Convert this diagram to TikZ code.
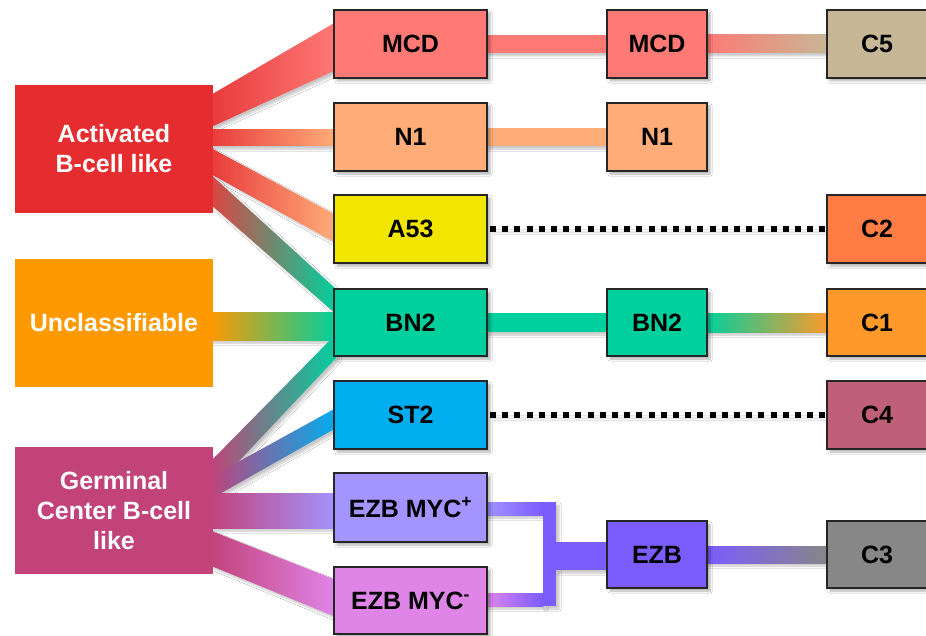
\documentclass[tikz,border=0pt]{standalone}
\usepackage{fontspec}
\setmainfont{Liberation Sans}
\usetikzlibrary{calc,shadows.blur}
\definecolor{actc}{HTML}{E52C2E}
\definecolor{actb}{HTML}{E8393B}
\definecolor{unclc}{HTML}{FF9900}
\definecolor{germc}{HTML}{C2427A}
\definecolor{mcdc}{HTML}{FF7A75}
\definecolor{n1c}{HTML}{FFAD78}
\definecolor{a53c}{HTML}{F2E600}
\definecolor{bn2c}{HTML}{00D09E}
\definecolor{st2c}{HTML}{00AEEF}
\definecolor{mycpc}{HTML}{A394FF}
\definecolor{mycmc}{HTML}{E085E8}
\definecolor{ezbc}{HTML}{7B5CFF}
\definecolor{c5c}{HTML}{C6B896}
\definecolor{c2c}{HTML}{FF7D45}
\definecolor{c1c}{HTML}{FF9A2A}
\definecolor{c4c}{HTML}{BF6078}
\definecolor{c3c}{HTML}{878787}
\definecolor{mudc}{HTML}{8C9A78}
\pgfdeclarelayer{bg}
\pgfsetlayers{bg,main}
\begin{document}
\begin{tikzpicture}[x=1pt,y=-1pt,
  shad/.style={blur shadow={shadow xshift=3pt, shadow yshift=-3pt, shadow blur steps=6, shadow opacity=30}},
  box/.style={shad, draw=black!85, line width=1.3pt, inner sep=0pt, outer sep=0pt,
    font=\bfseries\fontsize{25}{30}\selectfont, text=black},
  big/.style={inner sep=0pt, outer sep=0pt, minimum width=198pt, minimum height=128pt,
    text=white, align=center, font=\bfseries\fontsize{25}{30}\selectfont},
  midbox/.style={box, minimum width=153pt, minimum height=68pt},
  thrbox/.style={box, minimum width=100pt, minimum height=68pt},
  band/.style={blur shadow={shadow xshift=3pt, shadow yshift=-3pt, shadow blur steps=5, shadow opacity=22}},
  dots/.style={line width=6pt, dash pattern=on 6pt off 6.2pt, black}
]
\useasboundingbox (0,0) rectangle (926,636);

% left boxes
\node[big, fill=actc] (act) at (114,149) {Activated\\B-cell like};
\node[big, fill=unclc] (uncl) at (114,323) {Unclassifiable};
\node[big, fill=germc, minimum height=127pt] (germ) at (114,510.5) {Germinal\\Center B-cell\\like};

% middle column
\node[midbox, fill=mcdc] (m1) at (410.5,44) {MCD};
\node[midbox, fill=n1c] (n1) at (410.5,137) {N1};
\node[midbox, fill=a53c] (a53) at (410.5,229) {A53};
\node[midbox, fill=bn2c, minimum height=67pt] (bn2) at (410.5,322.5) {BN2};
\node[midbox, fill=st2c] (st2) at (410.5,415) {ST2};
\node[midbox, fill=mycpc, minimum height=69pt] (mycp) at (410.5,507.5) {EZB MYC\textsuperscript{+}};
\node[midbox, fill=mycmc, minimum height=67pt] (mycm) at (410.5,600.5) {EZB MYC\textsuperscript{-}};

% third column
\node[thrbox, fill=mcdc] (m2) at (657,44) {MCD};
\node[thrbox, fill=n1c] (n2) at (657,137) {N1};
\node[thrbox, fill=bn2c, minimum height=67pt] (bn3) at (657,322.5) {BN2};
\node[thrbox, fill=ezbc, minimum height=67pt] (ezb) at (657,554.5) {EZB};

% right column
\node[thrbox, fill=c5c] (c5) at (877,44) {C5};
\node[thrbox, fill=c2c] (c2) at (877,229) {C2};
\node[thrbox, fill=c1c, minimum height=67pt] (c1) at (877,322.5) {C1};
\node[thrbox, fill=c4c] (c4) at (877,415) {C4};
\node[thrbox, fill=c3c, minimum height=67pt] (c3) at (877,554.5) {C3};

\coordinate (jt) at (556,502);
\coordinate (jb) at (556,606);

\begin{pgfonlayer}{bg}
\fill[white] (0,0) rectangle (926,636);
% Activated B-cell like
\shade[band, left color=actb, right color=mcdc]
  ($(act.north east)+(-4,11)$) -- ($(m1.north west)+(2,12)$) -- ($(m1.south west)+(2,-8)$) -- ($(act.north east)+(-4,43)$) -- cycle;
\shade[band, left color=actb, right color=n1c]
  ($(act.north east)+(-4,45)$) rectangle ($(n1.west)+(2,9)$);
\shade[band, left color=actb, right color=n1c]
  ($(act.north east)+(-4,62)$) -- ($(a53.north west)+(2,20)$) -- ($(a53.north west)+(2,48)$) -- ($(act.north east)+(-4,88)$) -- cycle;
\shade[band, left color=actb!90!mudc, middle color=mudc, right color=bn2c]
  ($(act.north east)+(-4,88)$) -- ($(bn2.north west)+(2,0)$) -- ($(bn2.north west)+(2,25)$) -- ($(act.north east)+(-4,118)$) -- cycle;
% Unclassifiable
\shade[band, left color=unclc, middle color=mudc!60!unclc, right color=bn2c]
  ($(uncl.north east)+(-4,53)$) rectangle ($(bn2.south west)+(2,-16)$);
% Germinal center
\shade[band, left color=germc, middle color=mudc, right color=bn2c]
  ($(germ.north east)+(-4,16)$) -- ($(bn2.south west)+(2,-22)$) -- ($(bn2.south west)+(2,2)$) -- ($(germ.north east)+(-4,46)$) -- cycle;
\shade[band, left color=germc, right color=st2c]
  ($(germ.north east)+(-4,31)$) -- ($(st2.north west)+(2,27)$) -- ($(st2.north west)+(2,47)$) -- ($(germ.north east)+(-4,53)$) -- cycle;
\shade[band, left color=germc, right color=mycpc]
  ($(germ.north east)+(-4,46)$) rectangle ($(mycp.south west)+(2,-14)$);
\shade[band, left color=germc, right color=mycmc]
  ($(germ.north east)+(-4,83)$) -- ($(mycm.north west)+(2,13)$) -- ($(mycm.north west)+(2,50)$) -- ($(germ.north east)+(-4,118)$) -- cycle;
% middle to third
\fill[band, mcdc] ($(m1.east)+(-2,-9)$) rectangle ($(m2.west)+(2,9)$);
\fill[band, n1c] ($(n1.east)+(-2,-9)$) rectangle ($(n2.west)+(2,9)$);
\fill[band, bn2c] ($(bn2.east)+(-2,-9.5)$) rectangle ($(bn3.west)+(2,9.5)$);
% EZB bracket
\shade[band, left color=mycpc, right color=ezbc]
  ($(mycp.east)+(-2,-5.5)$) rectangle ($(jt)+(-13,13)$);
\shade[band, left color=mycmc, right color=ezbc]
  ($(mycm.east)+(-2,-7.5)$) rectangle ($(jb)+(-13,0)$);
\fill[band, ezbc] ($(jt)+(-13,0)$) rectangle (jb);
\fill[band, ezbc] ($(jt)+(-1,40)$) rectangle ($(ezb.west)+(2,15.5)$);
% third to right
\shade[band, left color=mcdc, right color=c5c]
  ($(m2.east)+(-2,-9)$) rectangle ($(c5.west)+(2,9)$);
\shade[band, left color=bn2c, middle color=mudc!50!c1c, right color=c1c]
  ($(bn3.east)+(-2,-9.5)$) rectangle ($(c1.west)+(2,9.5)$);
\shade[band, left color=ezbc, right color=c3c]
  ($(ezb.east)+(-2,-8.5)$) rectangle ($(c3.west)+(2,8.5)$);
% dotted links
\draw[dots, band] ($(a53.east)+(3,0)$) -- (c2.west);
\draw[dots, band] ($(st2.east)+(3,0)$) -- (c4.west);
\end{pgfonlayer}
\end{tikzpicture}
\end{document}
